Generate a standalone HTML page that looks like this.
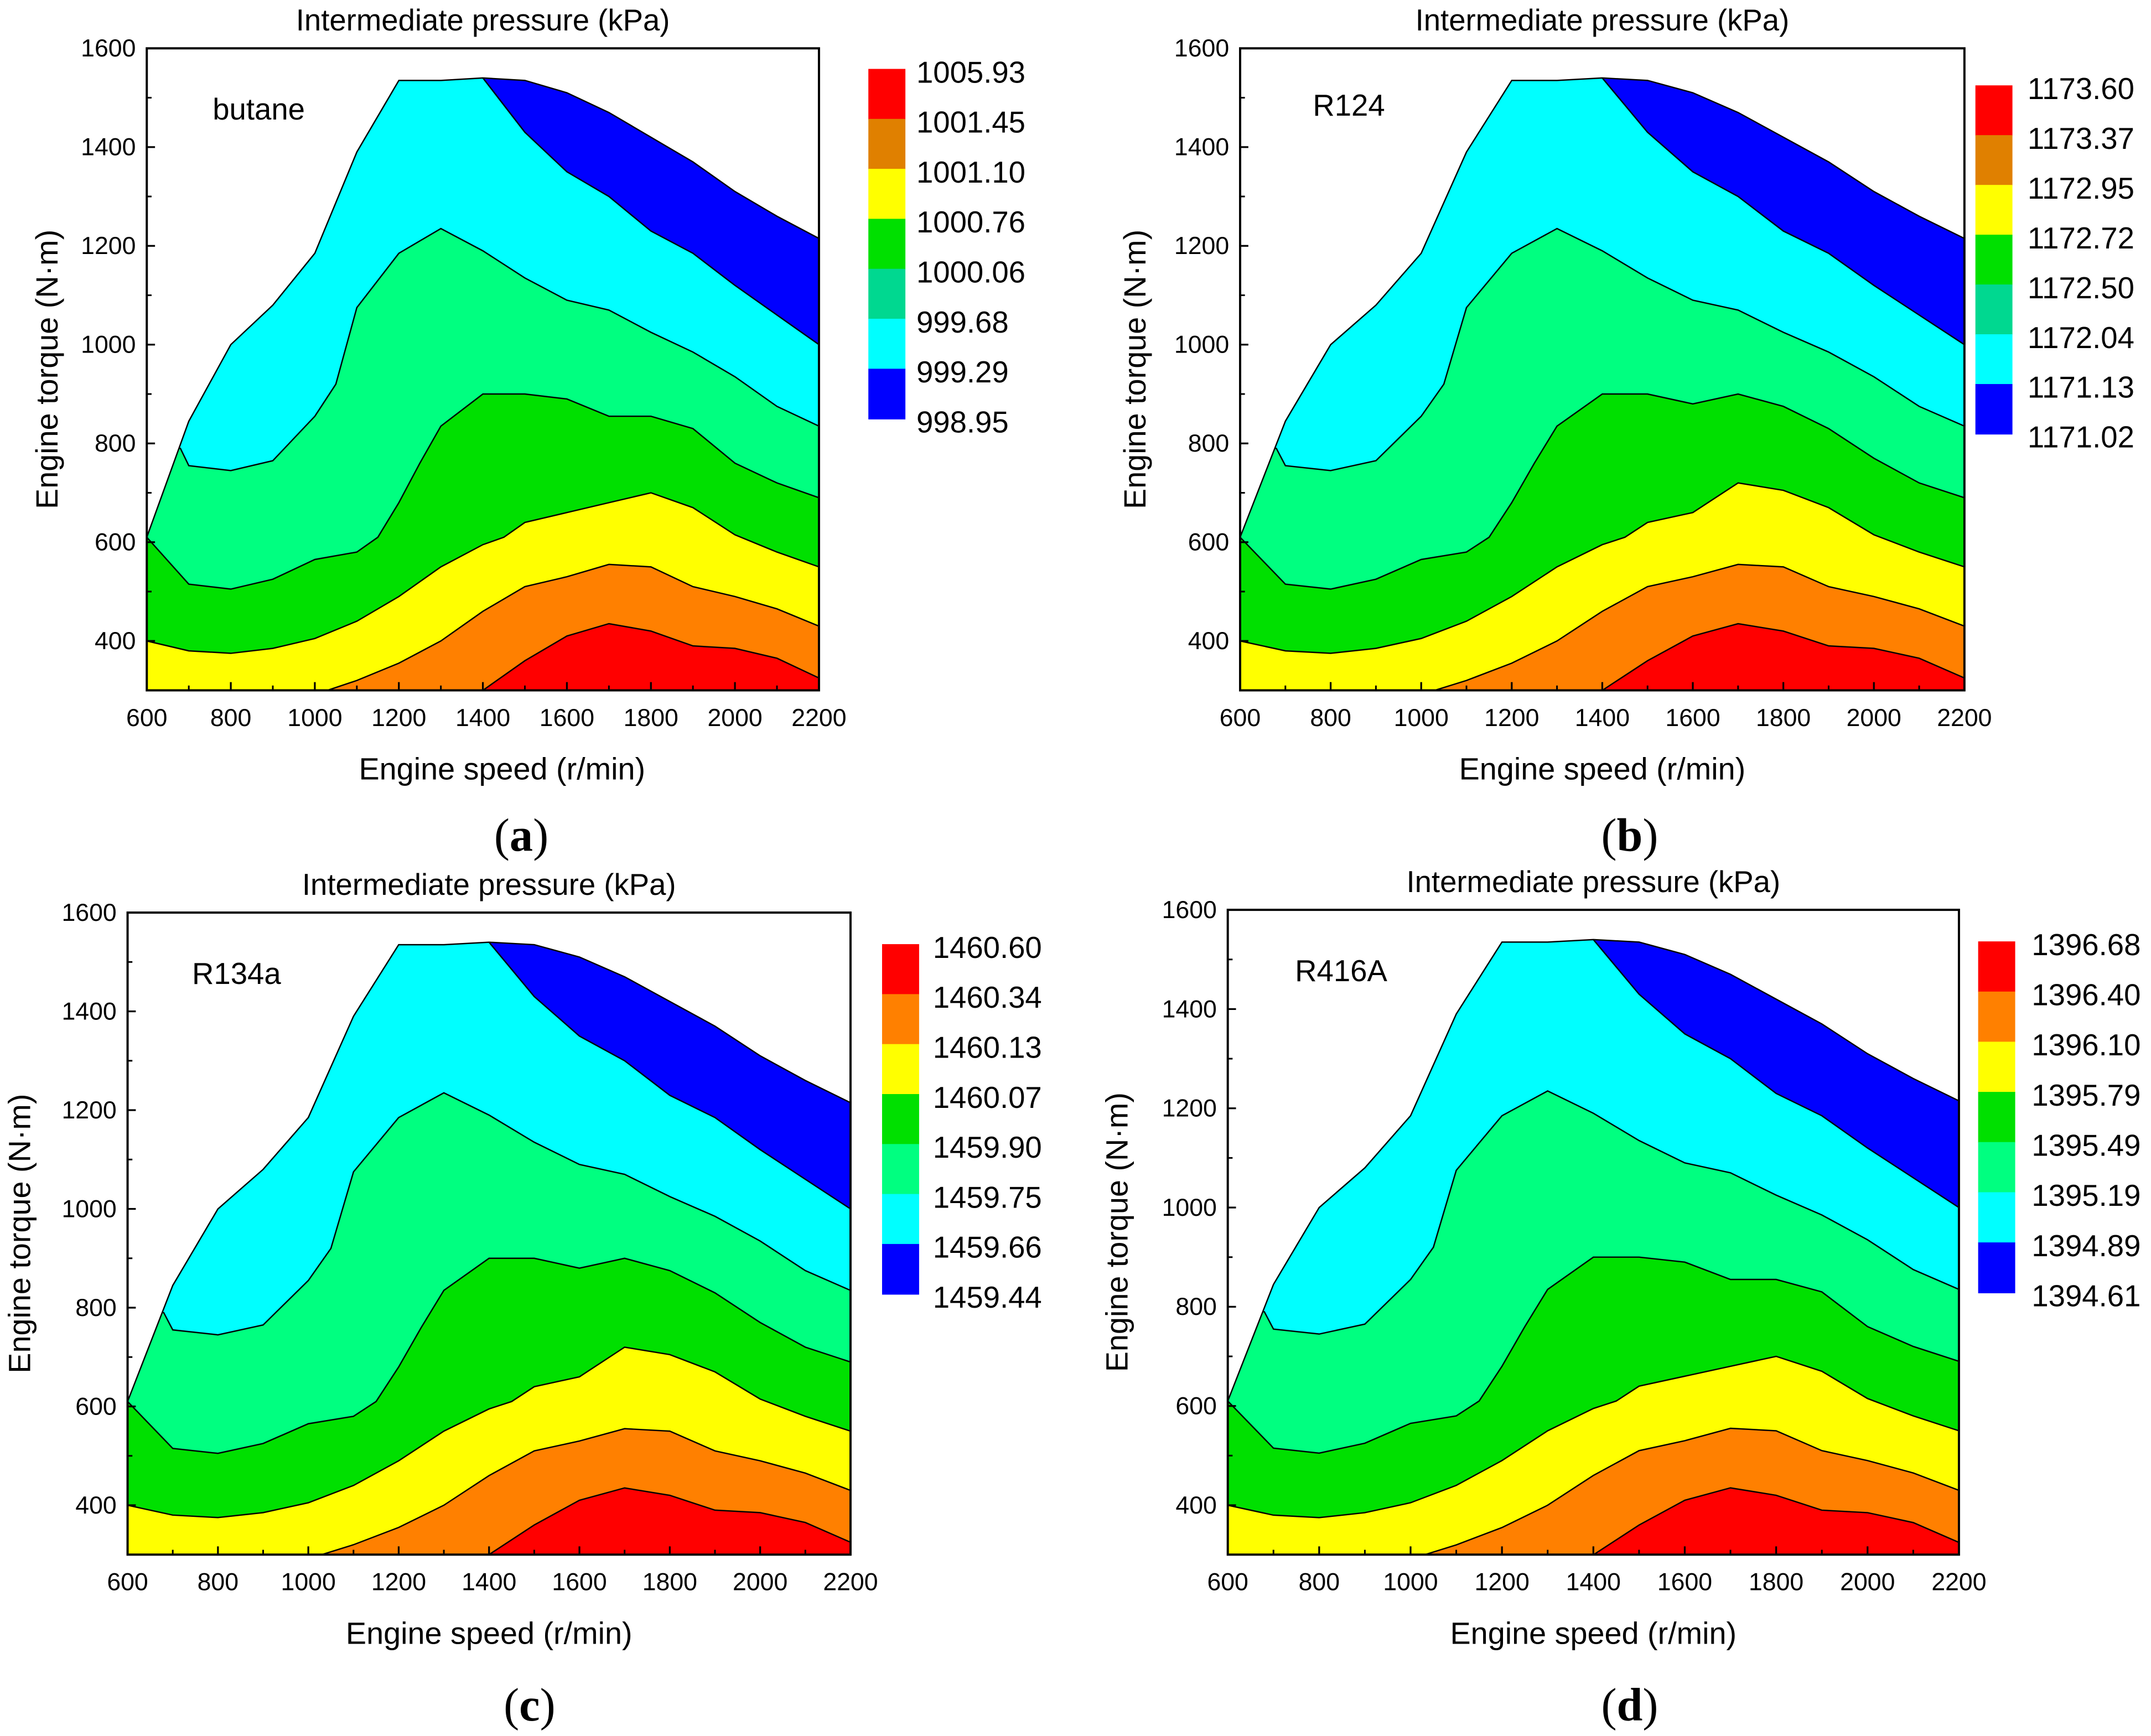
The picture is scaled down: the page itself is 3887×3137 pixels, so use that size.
<!DOCTYPE html>
<html><head><meta charset="utf-8"><style>
html,body{margin:0;padding:0;background:#fff;}
svg{display:block;}
text{font-family:"Liberation Sans",sans-serif;}
text.serif{font-family:"Liberation Serif",serif;}
</style></head><body>
<svg id="fig" width="3887" height="3137" viewBox="0 0 1568 1265" xmlns="http://www.w3.org/2000/svg"></svg>
<script>
// Data (engine speed r/min, torque N·m)
const envSpeed = [600,700,800,900,1000,1100,1200,1300,1400,1500,1600,1700,1800,1900,2000,2100,2200];
const envTorque = [610,845,1000,1080,1185,1390,1535,1535,1540,1535,1510,1470,1420,1370,1310,1260,1215];
// contour boundaries, panel set A (a, d)
const blueX = [600,1390,1400,1500,1600,1700,1800,1900,2000,2100,2200];
const blueY = [1700,1700,1540,1430,1350,1300,1230,1185,1120,1060,1000];
const cyanX = [600,680,700,800,900,1000,1050,1100,1200,1300,1400,1500,1600,1700,1800,1900,2000,2100,2200];
const cyanY = [790,790,755,745,765,855,920,1075,1185,1235,1190,1135,1090,1070,1025,985,935,875,835];
const seaX = [600,700,800,900,1000,1100,1150,1200,1250,1300,1400,1500,1600,1700,1800,1900,2000,2100,2200];
const seaYA = [610,515,505,525,565,580,610,680,760,835,900,900,890,855,855,830,760,720,690];
const seaYB = [610,515,505,525,565,580,610,680,760,835,900,900,880,900,875,830,770,720,690];
const grnX = [600,700,800,900,1000,1100,1200,1300,1400,1450,1500,1600,1700,1800,1900,2000,2100,2200];
const grnYA = [400,380,375,385,405,440,490,550,595,610,640,660,680,700,670,615,580,550];
const grnYB = [400,380,375,385,405,440,490,550,595,610,640,660,720,705,670,615,580,550];
const ylwX = [1030,1100,1200,1300,1400,1500,1600,1700,1800,1900,2000,2100,2200];
const ylwY = [300,320,355,400,460,510,530,555,550,510,490,465,430];
const orgX = [1400,1500,1600,1700,1800,1900,2000,2100,2200];
const orgY = [300,360,410,435,420,390,385,365,325];
const xTicks = [600,800,1000,1200,1400,1600,1800,2000,2200];
const yTicks = [400,600,800,1000,1200,1400,1600];
const legA = ["1005.93","1001.45","1001.10","1000.76","1000.06","999.68","999.29","998.95"];
const legB = ["1173.60","1173.37","1172.95","1172.72","1172.50","1172.04","1171.13","1171.02"];
const legC = ["1460.60","1460.34","1460.13","1460.07","1459.90","1459.75","1459.66","1459.44"];
const legD = ["1396.68","1396.40","1396.10","1395.79","1395.49","1395.19","1394.89","1394.61"];

const NS="http://www.w3.org/2000/svg";
const svg=document.getElementById('fig');
function mk(tag,attrs,parent){const e=document.createElementNS(NS,tag);for(const k in attrs)e.setAttribute(k,attrs[k]);(parent||svg).appendChild(e);return e;}

const panels=[
 {id:'a',x0:107,x1:597,yT:35,y4:467,bot:503,name:'butane',nx:155,ny:87,lx:633,ly0:50,ly1:305,tx:668,set:'A',leg:legA,
  legCols:['#ff0000','#e08000','#ffff00','#00e000','#00d890','#00ffff','#0000ff'],ytx:42,sub:'(a)',subx:380,suby:620,titley:22},
 {id:'b',x0:904,x1:1432,yT:35,y4:467,bot:503,name:'R124',nx:957,ny:84,lx:1440,ly0:62,ly1:316,tx:1478,set:'B',leg:legB,
  legCols:['#ff0000','#e08000','#ffff00','#00e000','#00d890','#00ffff','#0000ff'],ytx:835,sub:'(b)',subx:1188,suby:620,titley:22},
 {id:'c',x0:93,x1:620,yT:665,y4:1097,bot:1133,name:'R134a',nx:140,ny:717,lx:643,ly0:688,ly1:943,tx:680,set:'B',leg:legC,
  legCols:['#ff0000','#ff8000','#ffff00','#00e000','#00ff80','#00ffff','#0000ff'],ytx:22,sub:'(c)',subx:386,suby:1254,titley:652},
 {id:'d',x0:895,x1:1428,yT:663,y4:1097,bot:1133,name:'R416A',nx:944,ny:715,lx:1442,ly0:686,ly1:942,tx:1481,set:'A',leg:legD,
  legCols:['#ff0000','#ff8000','#ffff00','#00e000','#00ff80','#00ffff','#0000ff'],ytx:822,sub:'(d)',subx:1188,suby:1254,titley:650}
];

panels.forEach(p=>{
 const sx=v=>p.x0+(v-600)/1600*(p.x1-p.x0);
 const sy=v=>p.y4-(v-400)/1200*(p.y4-p.yT);
 const g=mk('g',{});
 
 
 const cp=mk('clipPath',{id:'clip'+p.id},g);
 let env='M'+sx(600)+','+sy(300);
 envSpeed.forEach((s,i)=>{env+=' L'+sx(s)+','+sy(envTorque[i]);});
 env+=' L'+sx(2200)+','+sy(300)+' Z';
 mk('path',{d:env},cp);
 const area=mk('g',{'clip-path':'url(#clip'+p.id+')'},g);
 
 
 mk('rect',{x:p.x0,y:p.yT,width:p.x1-p.x0,height:p.bot-p.yT,fill:'#0000ff'},area);
 const seaY=p.set==='A'?seaYA:seaYB, grnY=p.set==='A'?grnYA:grnYB;
 const bands=[[blueX,blueY,'#00ffff','cyan'],[cyanX,cyanY,'#00ff80','spring-green'],[seaX,seaY,'#00e000','green'],[grnX,grnY,'#ffff00','yellow'],[ylwX,ylwY,'#ff8000','orange'],[orgX,orgY,'#ff0000','red']];
 bands.forEach(b=>{
   const X=b[0],Y=b[1];
   let d='M'+sx(X[0])+','+sy(Y[0]);
   let l='M'+sx(X[0])+','+sy(Y[0]);
   for(let i=1;i<X.length;i++){d+=' L'+sx(X[i])+','+sy(Y[i]);l+=' L'+sx(X[i])+','+sy(Y[i]);}
   d+=' L'+sx(2200)+','+sy(200)+' L'+sx(X[0])+','+sy(200)+' Z';
   const f=mk('path',{d:d,fill:b[2]},area);
   
   
   b.line=l;
 });
 bands.forEach(b=>{
   const s=mk('path',{d:b.line,fill:'none',stroke:'#000','stroke-width':1},area);
   
   
 });
 const eo=mk('path',{d:env,fill:'none',stroke:'#000','stroke-width':1},g);
 
 
 const fr=mk('rect',{x:p.x0,y:p.yT,width:p.x1-p.x0,height:p.bot-p.yT,fill:'none',stroke:'#000','stroke-width':1.6},g);
 
 
 xTicks.forEach((t,i)=>{
   mk('line',{x1:sx(t),x2:sx(t),y1:p.bot,y2:p.bot-6,stroke:'#000','stroke-width':1.3},g);
   if(i<xTicks.length-1){const m=t+100;mk('line',{x1:sx(m),x2:sx(m),y1:p.bot,y2:p.bot-3.5,stroke:'#000','stroke-width':1.2},g);}
   const tx=mk('text',{x:sx(t),y:p.bot+26,'font-size':18,'text-anchor':'middle'},g);tx.textContent=t;
   
   
 });
 yTicks.forEach(t=>{
   mk('line',{x1:p.x0,x2:p.x0+6,y1:sy(t),y2:sy(t),stroke:'#000','stroke-width':1.3},g);
   if(t<1600)mk('line',{x1:p.x0,x2:p.x0+3.5,y1:sy(t+100),y2:sy(t+100),stroke:'#000','stroke-width':1.2},g);
   const ty=mk('text',{x:p.x0-8,y:sy(t)+6,'font-size':18,'text-anchor':'end'},g);ty.textContent=t;
   
   
 });
 const cx=(p.x0+p.x1)/2;
 const tt=mk('text',{x:cx,y:p.titley,'font-size':22,'text-anchor':'middle'},g);tt.textContent='Intermediate pressure (kPa)';
 
 
 const xl=mk('text',{x:cx-(p.id==='a'?-14:0),y:p.bot+65,'font-size':22.5,'text-anchor':'middle'},g);xl.textContent='Engine speed (r/min)';
 
 
 const ym=(p.yT+p.bot)/2;
 const yl=mk('text',{x:p.ytx,y:ym,'font-size':22.5,'text-anchor':'middle',transform:'rotate(-90 '+p.ytx+' '+ym+')'},g);yl.textContent='Engine torque (N·m)';
 
 
 const nm=mk('text',{x:p.nx,y:p.ny,'font-size':22},g);nm.textContent=p.name;
 
 
 const bh=(p.ly1-p.ly0)/7;
 p.legCols.forEach((c,i)=>{
   const r=mk('rect',{x:p.lx,y:p.ly0+i*bh,width:27,height:bh+0.5,fill:c},g);
   
   
 });
 p.leg.forEach((v,i)=>{
   const t=mk('text',{x:p.tx,y:p.ly0+i*bh+10,'font-size':22},g);t.textContent=v;
   
   
 });
 const sb=mk('text',{x:p.subx,y:p.suby,'font-size':34,'text-anchor':'middle','class':'serif'},g);
 
 
 sb.innerHTML='(<tspan font-weight="bold">'+p.sub[1]+'</tspan>)';
});
</script>
</body></html>
